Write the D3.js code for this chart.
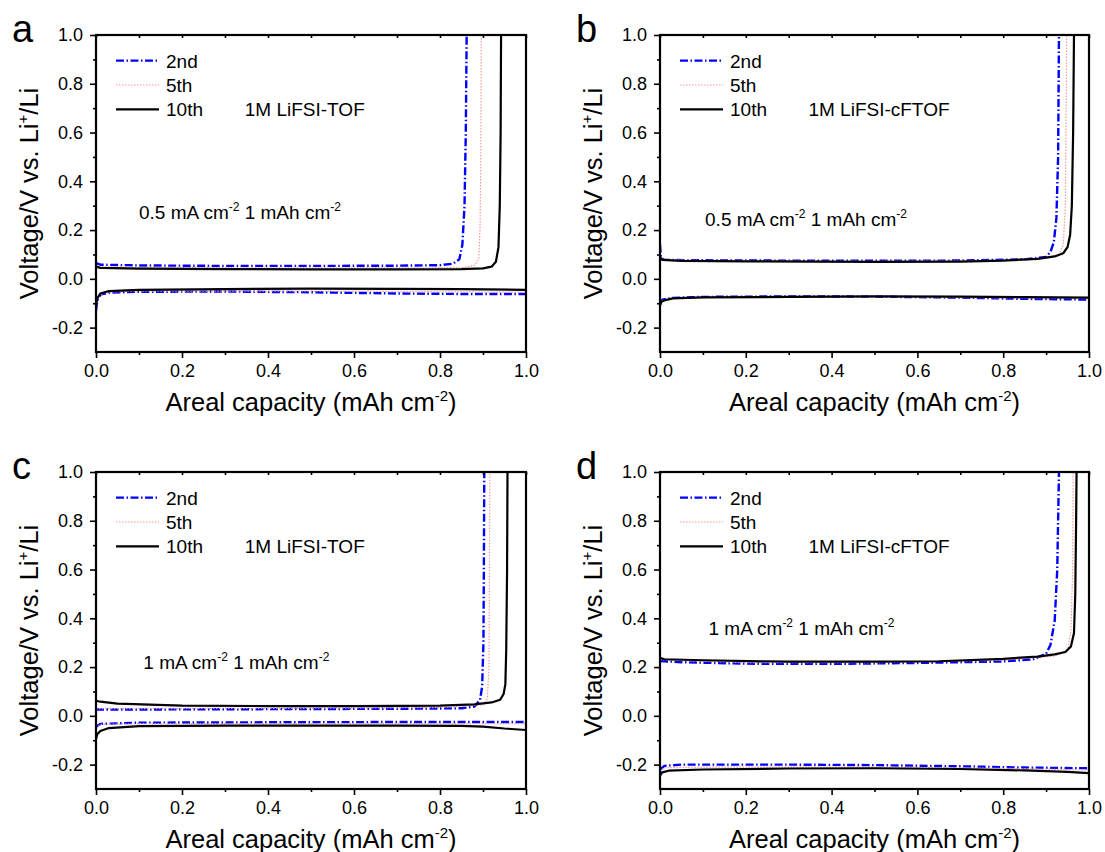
<!DOCTYPE html>
<html>
<head>
<meta charset="utf-8">
<title>Li plating / stripping profiles</title>
<script src="https://cdn.jsdelivr.net/npm/d3@7"></script>
<style>
    body { margin: 0; background: #fff; }
    svg text { font-family: "Liberation Sans", Arial, sans-serif; fill: #000; }
</style>
</head>
<body>
<svg id="chart" width="1105" height="852"></svg>
<script>
// axis ticks
const xTicks = [0, 0.2, 0.4, 0.6, 0.8, 1.0];
const xTickLabels = ["0.0", "0.2", "0.4", "0.6", "0.8", "1.0"];
const xMinor = [0.1, 0.3, 0.5, 0.7, 0.9];
const yTicks = [-0.2, 0, 0.2, 0.4, 0.6, 0.8, 1.0];
const yTickLabels = ["-0.2", "0.0", "0.2", "0.4", "0.6", "0.8", "1.0"];
const yMinor = [-0.1, 0.1, 0.3, 0.5, 0.7, 0.9];

const cycles = ["2nd", "5th", "10th"];
const panelLetters = ["a", "b", "c", "d"];
const electrolytes = ["1M LiFSI-TOF", "1M LiFSI-cFTOF", "1M LiFSI-TOF", "1M LiFSI-cFTOF"];
const currents = ["0.5", "0.5", "1", "1"];

// [areal capacity, voltage]
// panel a: 1M LiFSI-TOF, 0.5 mA cm-2
const aUp2 = [[0,0.065],[0.01,0.058],[0.1,0.055],[0.3,0.053],[0.5,0.053],[0.7,0.054],[0.8,0.056],[0.83,0.062],[0.845,0.08],[0.852,0.14],[0.857,0.3],[0.86,0.6],[0.862,1.0]];
const aUp5 = [[0,0.055],[0.01,0.05],[0.1,0.047],[0.4,0.045],[0.7,0.045],[0.85,0.046],[0.88,0.055],[0.89,0.08],[0.893,0.2],[0.895,0.5],[0.896,1.0]];
const aUp10 = [[0,0.05],[0.01,0.045],[0.1,0.042],[0.3,0.04],[0.5,0.039],[0.7,0.039],[0.85,0.04],[0.9,0.043],[0.92,0.05],[0.93,0.07],[0.936,0.13],[0.939,0.3],[0.941,0.6],[0.942,1.0]];
const aLo2 = [[0,-0.13],[0.003,-0.09],[0.01,-0.065],[0.03,-0.057],[0.1,-0.053],[0.3,-0.052],[0.5,-0.055],[0.7,-0.06],[0.85,-0.062],[1.0,-0.062]];
const aLo5 = [[0,-0.12],[0.005,-0.075],[0.02,-0.055],[0.1,-0.05],[0.4,-0.05],[0.7,-0.052],[1.0,-0.055]];
const aLo10 = [[0,-0.11],[0.003,-0.08],[0.01,-0.06],[0.03,-0.05],[0.1,-0.045],[0.3,-0.042],[0.5,-0.04],[0.7,-0.041],[0.85,-0.042],[1.0,-0.045]];

// panel b: 1M LiFSI-cFTOF, 0.5 mA cm-2
const bUp2 = [[0,0.14],[0.002,0.09],[0.01,0.078],[0.1,0.076],[0.4,0.074],[0.7,0.075],[0.85,0.08],[0.9,0.09],[0.91,0.11],[0.918,0.15],[0.924,0.25],[0.928,0.5],[0.93,1.0]];
const bUp5 = [[0,0.1],[0.005,0.08],[0.1,0.075],[0.5,0.072],[0.8,0.076],[0.9,0.086],[0.93,0.1],[0.94,0.14],[0.945,0.3],[0.948,1.0]];
const bUp10 = [[0,0.09],[0.005,0.078],[0.05,0.074],[0.2,0.072],[0.5,0.07],[0.7,0.071],[0.8,0.075],[0.88,0.082],[0.92,0.092],[0.94,0.105],[0.95,0.13],[0.956,0.18],[0.96,0.3],[0.963,0.6],[0.965,1.0]];
const bLo2 = [[0,-0.1],[0.005,-0.085],[0.03,-0.078],[0.1,-0.074],[0.3,-0.072],[0.5,-0.073],[0.7,-0.077],[0.85,-0.082],[1.0,-0.085]];
const bLo5 = [[0,-0.1],[0.005,-0.088],[0.03,-0.08],[0.2,-0.074],[0.5,-0.073],[0.8,-0.078],[1.0,-0.08]];
const bLo10 = [[0,-0.11],[0.003,-0.095],[0.01,-0.088],[0.03,-0.08],[0.1,-0.076],[0.3,-0.074],[0.5,-0.072],[0.7,-0.073],[0.85,-0.075],[1.0,-0.077]];

// panel c: 1M LiFSI-TOF, 1 mA cm-2
const cUp2 = [[0,0.026],[0.1,0.026],[0.3,0.027],[0.5,0.028],[0.7,0.029],[0.85,0.031],[0.88,0.038],[0.893,0.065],[0.898,0.12],[0.901,0.3],[0.902,0.6],[0.903,1.0]];
const cUp5 = [[0,0.03],[0.2,0.03],[0.5,0.031],[0.8,0.034],[0.9,0.045],[0.91,0.07],[0.914,0.2],[0.916,1.0]];
const cUp10 = [[0,0.062],[0.01,0.058],[0.05,0.05],[0.2,0.042],[0.4,0.04],[0.6,0.04],[0.8,0.042],[0.88,0.047],[0.92,0.055],[0.94,0.066],[0.948,0.09],[0.952,0.13],[0.954,0.27],[0.956,0.6],[0.957,1.0]];
const cLo2 = [[0,-0.045],[0.01,-0.033],[0.1,-0.028],[0.3,-0.027],[0.5,-0.026],[0.8,-0.025],[1.0,-0.025]];
const cLo5 = [[0,-0.05],[0.01,-0.035],[0.1,-0.032],[0.5,-0.032],[1.0,-0.032]];
const cLo10 = [[0,-0.095],[0.003,-0.075],[0.01,-0.062],[0.03,-0.05],[0.1,-0.042],[0.3,-0.04],[0.5,-0.04],[0.7,-0.04],[0.85,-0.041],[0.9,-0.044],[0.95,-0.052],[1.0,-0.058]];

// panel d: 1M LiFSI-cFTOF, 1 mA cm-2
const dUp2 = [[0,0.225],[0.05,0.22],[0.2,0.214],[0.4,0.213],[0.6,0.217],[0.8,0.223],[0.87,0.232],[0.9,0.255],[0.91,0.29],[0.92,0.39],[0.926,0.6],[0.93,1.0]];
const dUp5 = [[0,0.23],[0.2,0.218],[0.5,0.218],[0.8,0.228],[0.92,0.245],[0.95,0.27],[0.958,0.35],[0.962,0.6],[0.963,1.0]];
const dUp10 = [[0,0.238],[0.01,0.232],[0.1,0.228],[0.3,0.222],[0.5,0.222],[0.65,0.224],[0.8,0.234],[0.88,0.243],[0.92,0.252],[0.945,0.262],[0.958,0.285],[0.965,0.34],[0.968,0.5],[0.97,0.8],[0.971,1.0]];
const dLo2 = [[0,-0.22],[0.01,-0.205],[0.05,-0.2],[0.3,-0.2],[0.5,-0.202],[0.7,-0.207],[0.85,-0.212],[1.0,-0.215]];
const dLo5 = [[0,-0.23],[0.01,-0.213],[0.1,-0.21],[0.5,-0.21],[0.8,-0.215],[1.0,-0.222]];
const dLo10 = [[0,-0.245],[0.005,-0.232],[0.02,-0.225],[0.1,-0.22],[0.3,-0.216],[0.5,-0.215],[0.7,-0.218],[0.85,-0.224],[0.95,-0.23],[1.0,-0.235]];

const panelData = [
    [[aUp2, aLo2], [aUp5, aLo5], [aUp10, aLo10]],
    [[bUp2, bLo2], [bUp5, bLo5], [bUp10, bLo10]],
    [[cUp2, cLo2], [cUp5, cLo5], [cUp10, cLo10]],
    [[dUp2, dLo2], [dUp5, dLo5], [dUp10, dLo10]]
];

// layout
const panelPos = [
    { left: 96, top: 35, w: 430 },
    { left: 660, top: 35, w: 429 },
    { left: 96, top: 472, w: 430 },
    { left: 660, top: 472, w: 429 }
];
const plotH = 317;
const noteY = [0.247, 0.216, 0.192, 0.33];   // baseline of the current-density note, in volts
const noteX = [0.1, 0.105, 0.11, 0.113];

const styles = [
    { color: "#0000ff", width: 2.4, dash: "8,2.5,1.5,2.5" },
    { color: "#f49a9a", width: 1.2, dash: "1.5,1.5" },
    { color: "#000000", width: 2.2, dash: null }
];

const svg = d3.select("#chart");

function supText(sel, parts, supSize, shift) {
    parts.forEach(p => {
        if (p.sup) {
            sel.append("tspan").attr("font-size", supSize).attr("dy", -shift).text(p.t);
        } else {
            const t = sel.append("tspan").text(p.t);
            if (p.after) t.attr("dy", shift);
        }
    });
}

panelPos.forEach((pos, i) => {
    const g = svg.append("g").attr("transform", `translate(${pos.left},${pos.top})`);
    const x = d3.scaleLinear().domain([0, 1]).range([0, pos.w]);
    const y = d3.scaleLinear().domain([-0.3, 1.0]).range([plotH, 0]);

    const clipId = "clip" + i;
    g.append("clipPath").attr("id", clipId)
        .append("rect").attr("width", pos.w).attr("height", plotH);

    // curves
    const line = d3.line().x(d => x(d[0])).y(d => y(d[1]));
    const curveG = g.append("g").attr("clip-path", `url(#${clipId})`);
    panelData[i].forEach((segs, c) => {
        segs.forEach(seg => {
            curveG.append("path")
                .attr("d", line(seg))
                .attr("fill", "none")
                .attr("stroke", styles[c].color)
                .attr("stroke-width", styles[c].width)
                .attr("stroke-dasharray", styles[c].dash)
                .attr("stroke-linejoin", "round");
        });
    });

    // axes
    g.append("g").attr("transform", `translate(0,${plotH})`)
        .call(d3.axisBottom(x).tickValues(xTicks).tickSize(6).tickPadding(6)
            .tickFormat((d, k) => xTickLabels[k]));
    g.append("g").attr("transform", `translate(0,${plotH})`)
        .call(d3.axisBottom(x).tickValues(xMinor).tickSize(3).tickFormat(""));
    g.append("g").call(d3.axisTop(x).tickValues(xTicks.concat(xMinor)).tickSize(-3).tickFormat(""));
    g.append("g")
        .call(d3.axisLeft(y).tickValues(yTicks).tickSize(6).tickPadding(7)
            .tickFormat((d, k) => yTickLabels[k]));
    g.append("g").call(d3.axisLeft(y).tickValues(yMinor).tickSize(3).tickFormat(""));

    g.selectAll(".domain").remove();
    g.selectAll(".tick line").attr("stroke", "#000").attr("stroke-width", 1.6);
    g.selectAll(".tick text").attr("font-size", 18).attr("font-family", null).attr("fill", "#000");

    g.append("rect").attr("width", pos.w).attr("height", plotH)
        .attr("fill", "none").attr("stroke", "#000").attr("stroke-width", 2.2);

    // axis titles
    const xt = g.append("text").attr("x", pos.w / 2).attr("y", plotH + 59)
        .attr("text-anchor", "middle").attr("font-size", 25.5);
    supText(xt, [{ t: "Areal capacity (mAh cm" }, { t: "-2", sup: true }, { t: ")", after: true }], 15, 10);

    const yt = g.append("text")
        .attr("transform", `translate(-58,${plotH / 2}) rotate(-90)`)
        .attr("text-anchor", "middle").attr("font-size", 25.5);
    supText(yt, [{ t: "Voltage/V vs. Li" }, { t: "+", sup: true }, { t: "/Li", after: true }], 15, 10);

    // panel letter
    svg.append("text").attr("x", pos.left - 84).attr("y", pos.top + 7)
        .attr("font-size", 38).text(panelLetters[i]);

    // legend
    cycles.forEach((name, c) => {
        const ly = y(0.895 - c * 0.1);
        g.append("line").attr("x1", 20).attr("x2", 63).attr("y1", ly).attr("y2", ly)
            .attr("stroke", styles[c].color).attr("stroke-width", styles[c].width)
            .attr("stroke-dasharray", styles[c].dash);
        g.append("text").attr("x", 70).attr("y", ly + 7).attr("font-size", 19).text(name);
    });

    // electrolyte label
    g.append("text").attr("x", x(0.346)).attr("y", y(0.695) + 7)
        .attr("font-size", 19).text(electrolytes[i]);

    // rate note
    const nt = g.append("text").attr("x", x(noteX[i])).attr("y", y(noteY[i])).attr("font-size", 19);
    supText(nt, [
        { t: currents[i] + " mA cm" }, { t: "-2", sup: true },
        { t: " 1 mAh cm", after: true }, { t: "-2", sup: true }
    ], 12, 8);
});
</script>
</body>
</html>
